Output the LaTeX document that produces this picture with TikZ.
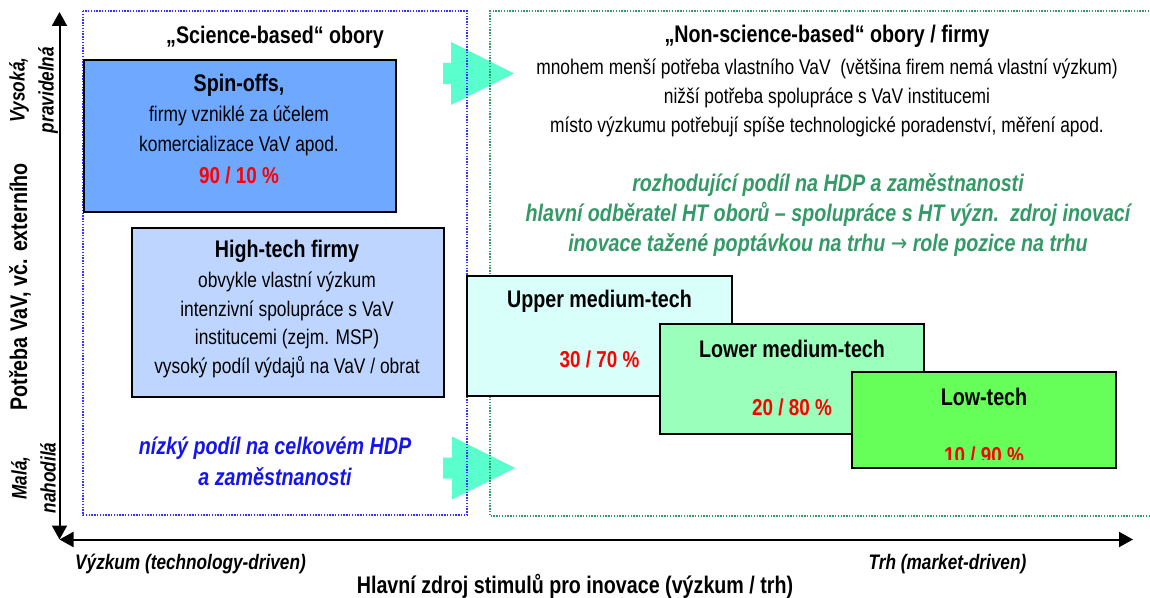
\documentclass[tikz,border=0pt]{standalone}
\usepackage{fontspec}
\setmainfont{Liberation Sans}[FakeStretch=0.82]
\newfontfamily\symfont{DejaVu Sans}[FakeStretch=0.82]
\usetikzlibrary{arrows.meta,positioning}

\definecolor{spinblue}{RGB}{110,168,255}
\definecolor{techblue}{RGB}{190,214,255}
\definecolor{uppercyan}{RGB}{217,255,250}
\definecolor{lowermint}{RGB}{153,255,187}
\definecolor{lowgreen}{RGB}{102,255,89}
\definecolor{flowteal}{RGB}{89,255,204}
\definecolor{notegreen}{RGB}{51,153,102}
\definecolor{noteblue}{RGB}{20,20,240}
\definecolor{zoneblue}{RGB}{51,51,255}
\definecolor{sharered}{RGB}{255,0,0}

\begin{document}
\begin{tikzpicture}[
    x=0.5pt, y=-0.5pt,
    firmbox/.style={rectangle, draw=black, line width=1pt, anchor=north west, inner sep=0pt},
    heading/.style={font=\fontsize{12}{15}\selectfont\bfseries},
    body/.style={align=center, font=\fontsize{10.6}{14.5}\selectfont},
    share/.style={text=sharered, font=\fontsize{11.5}{14}\selectfont\bfseries},
    note/.style={align=center, font=\fontsize{12}{15}\selectfont\bfseries\itshape},
    axislabel/.style={align=center, font=\fontsize{10.5}{14.5}\selectfont\bfseries\itshape},
    axis/.style={line width=1pt, {Triangle[length=7pt,width=7.5pt]}-{Triangle[length=7pt,width=7.5pt]}},
    zone/.style={line width=0.8pt, dash pattern=on 0.7pt off 0.7pt},
    flow/.style={fill=flowteal}
]
\useasboundingbox (0,0) rectangle (1150,598);

% Transition arrows
\fill[flow] (443,63) -- (451,63) -- (451,42) -- (514,73.5) -- (451,105) -- (451,84) -- (443,84) -- cycle;
\fill[flow] (443,457.5) -- (452,457.5) -- (452,436.5) -- (515,468) -- (452,499.5) -- (452,478.5) -- (443,478.5) -- cycle;

% Zones
\draw[zone, draw=zoneblue] (83,11) rectangle (467,515);
\draw[zone, draw=notegreen] (1152,11) -- (490,11) -- (490,516) -- (1152,516);

% Science-based side
\node[heading] (scihead) at (275,37) {„Science-based“ obory};
\node[firmbox, fill=spinblue, minimum width=156pt, minimum height=76pt] (spinoffs) at (83,59) {};
\node[body, font=\fontsize{10.6}{15}\selectfont] (spintext) at (239,129.5)
    {{\bfseries\fontsize{12}{15}\selectfont Spin-offs,}\\firmy vzniklé za účelem\\komercializace VaV apod.\\[1pt]
     {\color{sharered}\bfseries\fontsize{11.5}{15}\selectfont 90 / 10 \%}};
\node[firmbox, fill=techblue, minimum width=156pt, minimum height=84.5pt] (hightech) at (131,227) {};
\node[body, font=\fontsize{10.6}{14.25}\selectfont] (techtext) at (287,309)
    {{\bfseries\fontsize{12}{15}\selectfont High-tech firmy}\\[1pt]obvykle vlastní výzkum\\intenzivní spolupráce s VaV\\institucemi (zejm. MSP)\\vysoký podíl výdajů na VaV / obrat};
\node[note, text=noteblue, font=\fontsize{12}{15.5}\selectfont\bfseries\itshape] (scinote) at (275,461.5)
    {nízký podíl na celkovém HDP\\a zaměstnanosti};

% Non-science-based side
\node[body] (nonsci) at (827,81.5)
    {{\bfseries\fontsize{12}{15}\selectfont „Non-science-based“ obory / firmy}\\[1.5pt]
     mnohem menší potřeba vlastního VaV\ \ (většina firem nemá vlastní výzkum)\\
     nižší potřeba spolupráce s VaV institucemi\\
     místo výzkumu potřebují spíše technologické poradenství, měření apod.};
\node[note, text=notegreen] (nonscinote) at (828,215)
    {rozhodující podíl na HDP a zaměstnanosti\\
     hlavní odběratel HT oborů – spolupráce s HT význ.\ \ zdroj inovací\\
     inovace tažené poptávkou na trhu {\symfont\mdseries\upshape →} role pozice na trhu};

\node[firmbox, fill=uppercyan, minimum width=132.5pt, minimum height=60pt] (uppermed) at (466,275) {};
\node[heading] (upperhead) at ([yshift=-13pt]uppermed.north) {Upper medium-tech};
\node[share] (uppershare) at ([yshift=-42pt]uppermed.north) {30 / 70 \%};

\node[firmbox, fill=lowermint, minimum width=132pt, minimum height=55pt] (lowermed) at (659,323) {};
\node[heading] (lowerhead) at ([yshift=-13pt]lowermed.north) {Lower medium-tech};
\node[share] (lowershare) at ([yshift=-42pt]lowermed.north) {20 / 80 \%};

\node[firmbox, fill=lowgreen, minimum width=132pt, minimum height=48pt] (lowtech) at (851,371) {};
\node[heading] (lowhead) at ([yshift=-13pt]lowtech.north) {Low-tech};
\begin{scope}
\clip (lowtech.north west) rectangle ([yshift=5pt]lowtech.south east);
\node[share] (lowshare) at ([yshift=-42pt]lowtech.north) {10 / 90 \%};
\end{scope}

% Axes
\coordinate (origin) at (59.5,539.5);
\coordinate (ytop) at (59.5,12);
\coordinate (xend) at (1133,539.5);
\draw[axis] (ytop) -- (origin);
\draw[axis] (origin) -- (xend);

% Axis labels
\node[heading, rotate=90] (ylabel) at (20,287) {Potřeba VaV, vč. externího};
\node[axislabel, rotate=90] (yhigh) at (33.5,90) {Vysoká,\\pravidelná};
\node[axislabel, rotate=90] (ylow) at (33.5,478) {Malá,\\nahodilá};
\node[axislabel] (xleft) at (190.5,564) {Výzkum (technology-driven)};
\node[axislabel] (xright) at (947.5,564) {Trh (market-driven)};
\node[heading] (xlabel) at (575,586) {Hlavní zdroj stimulů pro inovace (výzkum / trh)};

\end{tikzpicture}
\end{document}
